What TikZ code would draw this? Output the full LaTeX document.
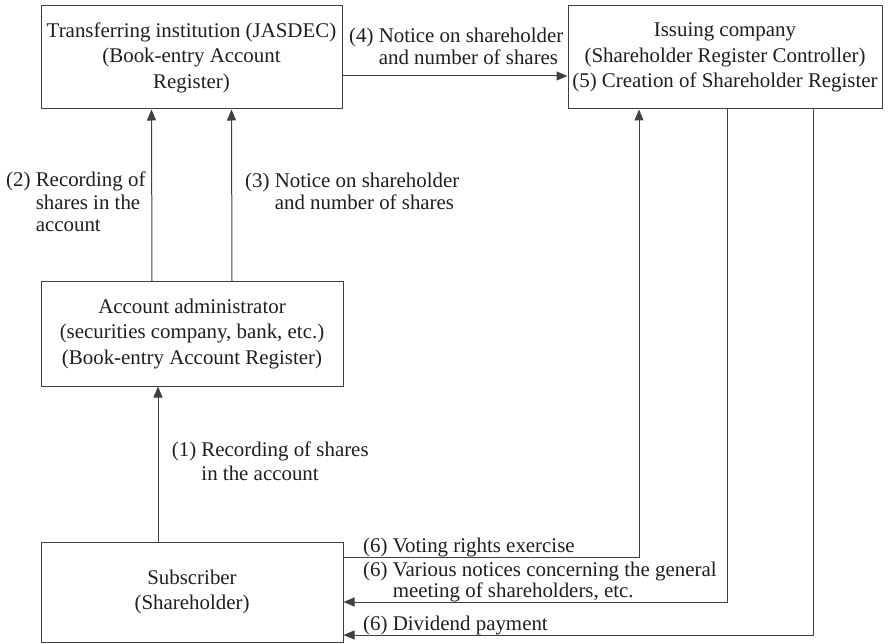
\documentclass[tikz,border=0pt]{standalone}
\usepackage{fontspec}
\setmainfont{Liberation Serif}
\usetikzlibrary{arrows.meta}
\definecolor{edgegray}{HTML}{404040}
\definecolor{inkgray}{HTML}{1E1E1E}
\begin{document}
\begin{tikzpicture}[x=1pt,y=-1pt,
  every node/.style={text=inkgray},
  box/.style={draw=edgegray, line width=1pt, inner sep=0pt, align=center,
    font=\fontsize{20.9}{25.5}\selectfont},
  % multi-line labels are anchored at the baseline of their last line
  lbl/.style={inner sep=0pt, align=left, anchor=base west,
    font=\fontsize{20.9}{22.5}\selectfont},
  conn/.style={draw=edgegray, line width=1pt},
  arr/.style={conn, -{Triangle[length=11pt,width=9pt]}}]
\useasboundingbox (0,0) rectangle (889,644);

% parties
\node[box, minimum width=301pt, minimum height=103pt] (tra) at (191.5,57.5)
  {Transferring institution (JASDEC)\\(Book-entry Account\\Register)};
\node[box, minimum width=314pt, minimum height=103pt] (iss) at (725,57.5)
  {Issuing company\\(Shareholder Register Controller)\\(5) Creation of Shareholder Register};
\node[box, minimum width=302pt, minimum height=104pt] (adm) at (192,334)
  {Account administrator\\(securities company, bank, etc.)\\(Book-entry Account Register)};
\node[box, minimum width=302pt, minimum height=100pt] (sub) at (192,592)
  {Subscriber\\(Shareholder)};

% flows between the parties
\draw[arr] ([xshift=-34pt]sub.north) -- ([xshift=-34pt]adm.south);
\draw[arr] ([xshift=-40pt]adm.north) -- ([xshift=-40pt]tra.south);
\draw[arr] ([xshift=40pt]adm.north) -- ([xshift=40pt]tra.south);
\draw[arr] ([yshift=-18.5pt]tra.east) -- ([yshift=-18.5pt]iss.west);
\draw[arr] ([yshift=35pt]sub.east) -| ([xshift=-86pt]iss.south);
\draw[arr] ([xshift=2pt]iss.south) |- ([yshift=-10pt]sub.east);
\draw[arr] ([xshift=88pt]iss.south) |- ([yshift=-43pt]sub.east);

% step labels
\node[lbl, font=\fontsize{20.9}{24}\selectfont] (l1) at (171.7,480)
  {(1) Recording of shares\\\hspace*{1.416em}in the account};
\node[lbl] (l2) at (6,232) {(2) Recording of\\\hspace*{1.416em}shares in the\\\hspace*{1.416em}account};
\node[lbl] (l3) at (245,210) {(3) Notice on shareholder\\\hspace*{1.416em}and number of shares};
\node[lbl] (l4) at (349,65) {(4) Notice on shareholder\\\hspace*{1.416em}and number of shares};
\node[lbl] (l6a) at (363,552) {(6) Voting rights exercise};
\node[lbl, font=\fontsize{20.9}{21}\selectfont] (l6b) at (363,597)
  {(6) Various notices concerning the general\\\hspace*{1.416em}meeting of shareholders, etc.};
\node[lbl] (l6c) at (363,630) {(6) Dividend payment};
\end{tikzpicture}
\end{document}
